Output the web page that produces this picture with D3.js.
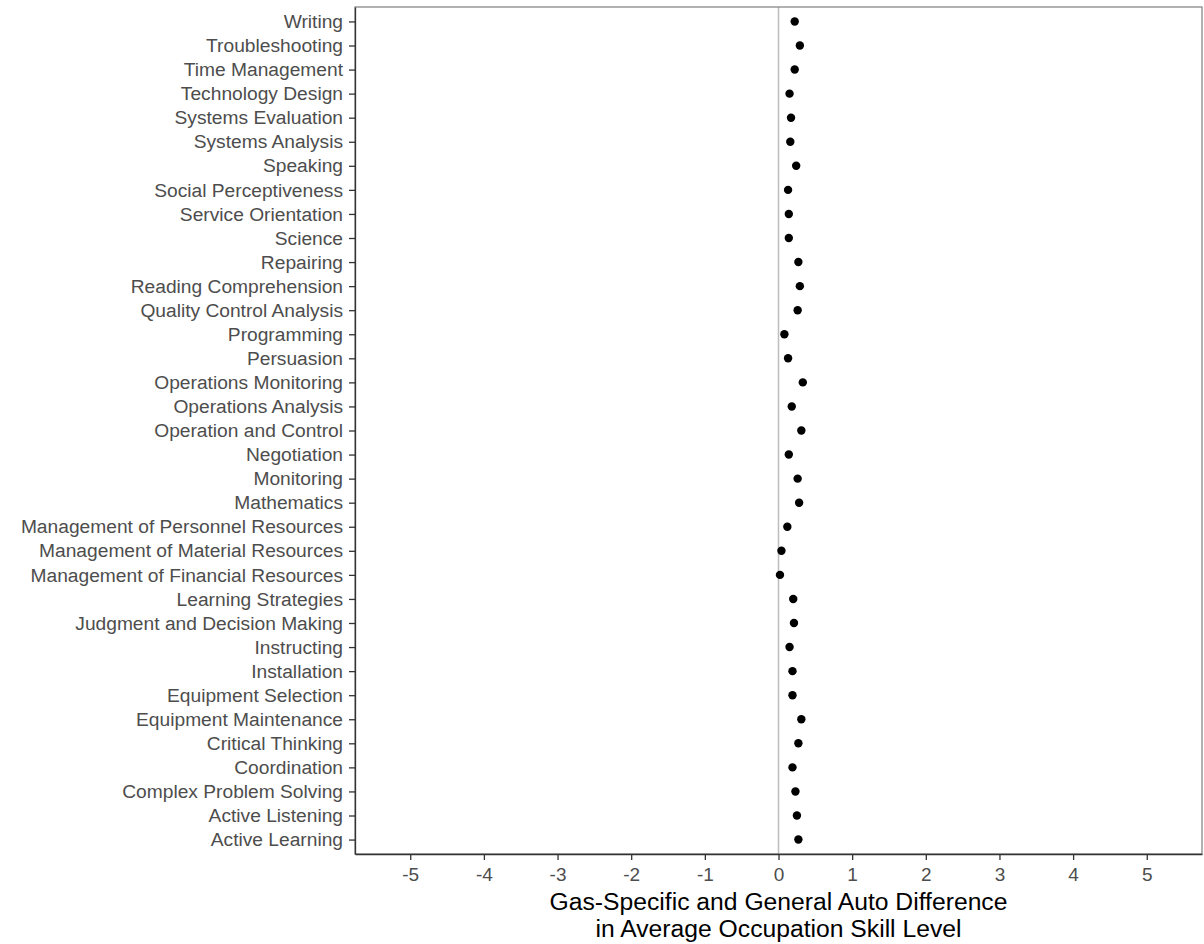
<!DOCTYPE html>
<html>
<head>
<meta charset="utf-8">
<script src="https://cdn.jsdelivr.net/npm/d3@7"></script>
<style>
  body { margin: 0; background: #fff; }
  svg { display: block; font-family: "Liberation Sans", Arial, Helvetica, sans-serif; }
</style>
</head>
<body>
<svg id="chart" width="1204" height="944"></svg>
<script>
// skills, top to bottom as drawn
const skills = [
    "Writing", "Troubleshooting", "Time Management", "Technology Design",
    "Systems Evaluation", "Systems Analysis", "Speaking", "Social Perceptiveness",
    "Service Orientation", "Science", "Repairing", "Reading Comprehension",
    "Quality Control Analysis", "Programming", "Persuasion", "Operations Monitoring",
    "Operations Analysis", "Operation and Control", "Negotiation", "Monitoring",
    "Mathematics", "Management of Personnel Resources", "Management of Material Resources",
    "Management of Financial Resources", "Learning Strategies", "Judgment and Decision Making",
    "Instructing", "Installation", "Equipment Selection", "Equipment Maintenance",
    "Critical Thinking", "Coordination", "Complex Problem Solving", "Active Listening",
    "Active Learning"
];

// difference in average skill level (gas-specific minus general auto)
const diffs = [
    0.22, 0.29, 0.22, 0.15,
    0.17, 0.16, 0.24, 0.13,
    0.14, 0.14, 0.27, 0.29,
    0.26, 0.08, 0.13, 0.33,
    0.18, 0.31, 0.14, 0.26,
    0.28, 0.12, 0.04,
    0.02, 0.20, 0.21,
    0.15, 0.19, 0.19, 0.31,
    0.27, 0.19, 0.23, 0.25,
    0.27
];

const xTicks = [-5, -4, -3, -2, -1, 0, 1, 2, 3, 4, 5];
const xTitle = ["Gas-Specific and General Auto Difference", "in Average Occupation Skill Level"];

const data = skills.map((s, i) => ({ skill: s, value: diffs[i] }));

const margin = { top: 7, right: 2, bottom: 90, left: 355 };
const width = 1204, height = 944;

const svg = d3.select("#chart");

const x = d3.scaleLinear()
    .domain([-5.75, 5.75])
    .range([margin.left, width - margin.right]);

const y = d3.scalePoint()
    .domain(skills)
    .range([margin.top, height - margin.bottom])
    .padding(0.6);

// zero reference line
svg.append("line")
    .attr("x1", x(0)).attr("x2", x(0))
    .attr("y1", margin.top).attr("y2", height - margin.bottom)
    .style("stroke", "#bdbdbd")
    .style("stroke-width", 1.5);

// panel border
svg.append("rect")
    .attr("x", margin.left)
    .attr("y", margin.top)
    .attr("width", width - margin.right - margin.left)
    .attr("height", height - margin.bottom - margin.top)
    .style("fill", "none")
    .style("stroke", "#7f7f7f")
    .style("stroke-width", 1.2);

// axes
const xAxis = svg.append("g")
    .attr("transform", `translate(0,${height - margin.bottom})`)
    .call(d3.axisBottom(x).tickValues(xTicks).tickSizeInner(6).tickSizeOuter(0)
        .tickPadding(8).tickFormat(d => String(d)));

const yAxis = svg.append("g")
    .attr("transform", `translate(${margin.left},0)`)
    .call(d3.axisLeft(y).tickSizeInner(6).tickSizeOuter(0).tickPadding(6));

[xAxis, yAxis].forEach(g => {
    g.select(".domain").style("stroke", "#333").style("stroke-width", 1.3);
    g.selectAll(".tick line").style("stroke", "#333").style("stroke-width", 1.3);
    g.selectAll(".tick text")
        .style("fill", "#4d4d4d")
        .style("font-family", "'Liberation Sans', Arial, sans-serif");
});
yAxis.selectAll(".tick text").style("font-size", "19.2px");
xAxis.selectAll(".tick text").style("font-size", "19px");

// points
svg.append("g")
    .selectAll("circle")
    .data(data)
    .join("circle")
    .attr("cx", d => x(d.value))
    .attr("cy", d => y(d.skill))
    .attr("r", 4.2)
    .style("fill", "black");

// axis title
svg.append("text")
    .attr("x", x(0))
    .attr("y", 910)
    .attr("text-anchor", "middle")
    .style("font-size", "24.7px")
    .style("fill", "black")
    .selectAll("tspan")
    .data(xTitle)
    .join("tspan")
    .attr("x", x(0))
    .attr("dy", (d, i) => i === 0 ? 0 : 27)
    .text(d => d);
</script>
</body>
</html>
